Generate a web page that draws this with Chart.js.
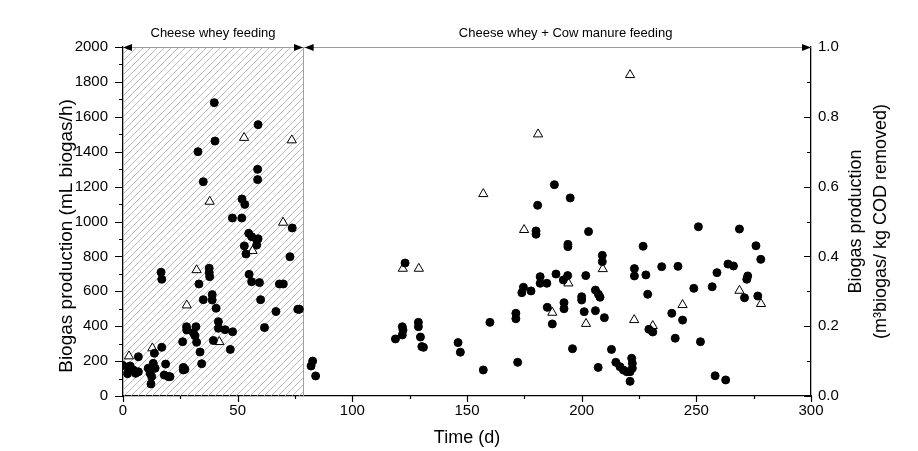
<!DOCTYPE html>
<html><head><meta charset="utf-8">
<script src="https://cdn.jsdelivr.net/npm/chart.js@4/dist/chart.umd.min.js"></script>
<style>html,body{margin:0;padding:0;background:#fff;}#wrap{width:918px;height:451px;}</style>
</head><body><div id="wrap"><canvas id="c" width="918" height="451"></canvas></div>
<script>
const FONT = '"Liberation Sans", Arial, sans-serif';

// Biogas production (mL biogas/h) – filled circles
const circleDays = [
 0,2,2.3,3.1,4.5,5.5,6.7,6.7,11,11.8,12.2,12.5,13.2,13.7,14,16.6,16.9,16.9,18,18.6,19.8,20.5,
 26,26.3,26.3,27,27.7,27.8,30.7,31.4,31.8,32.1,33.6,34.3,33.1,32.7,35,35,37.6,37.6,37.8,38.9,38.9,
 40.6,39.4,39.8,40.1,41.6,41.6,44.5,47.8,46.8,47.7,51.8,51.9,53.1,52.9,53.6,54.8,56.1,58.9,58.3,58.3,
 55,56.1,59.5,60,61.7,58.7,58.7,58.9,66.7,68.2,69.9,72.8,73.8,76.2,76.9,
 82.7,82,84,123,121.8,122.1,121.8,118.8,128.8,128.8,129.7,130.3,131,146.1,147.1,157.1,160,
 171.3,171.3,172.1,174.6,173.9,177.9,180.8,180.1,180.1,181.9,181.9,184.8,185,187.2,188.1,188.8,
 192.3,192.3,192,193.9,194,194,195,196,200,200,201.1,201.8,203,206,207.3,208,206,207.2,209,209,
 209.9,213,214.9,216.7,218.2,219.7,221.1,221.1,221.8,222.1,222.1,223,223,226.8,228,228.8,229.3,
 231,234.9,239.3,240.8,242,244,248.9,250.9,251.8,256.9,258.2,259,262.8,263.8,266.2,268.8,271,
 272.4,272,276,276.8,278.1
];
const circleBiogas = [
 175,128,139,172,149,130,139,225,159,130,69,111,187,245,159,709,669,279,120,183,111,111,
 311,164,149,153,397,378,362,345,397,308,252,185,642,1400,1228,552,732,707,684,581,550,
 503,318,1681,1461,426,388,380,368,267,1020,1020,1129,1098,860,814,932,913,901,894,865,
 697,655,650,552,392,1299,1240,1555,484,642,642,798,963,497,497,
 200,172,115,762,397,378,350,327,422,397,338,283,279,306,251,149,422,
 474,443,193,623,592,602,1093,946,927,684,646,646,508,413,1211,699,
 535,500,665,690,869,856,1135,271,569,550,483,690,942,607,583,566,489,164,806,770,
 449,267,193,168,149,139,139,84,216,187,159,730,688,858,694,583,382,
 367,741,474,331,743,435,617,970,311,626,116,707,92,756,745,957,563,
 688,669,861,573,783
];

// Biogas yield (m3 biogas / kg COD removed) – open triangles
const triangleDays = [2.6,12.8,27.8,32.1,37.8,42,52.8,56.5,69.8,73.6,122,129,157.1,174.9,181,187.2,194.2,201.9,209.2,221.1,222.9,231,244,268.8,278.2];
const triangleYield = [0.114,0.137,0.26,0.361,0.557,0.155,0.74,0.416,0.497,0.733,0.365,0.365,0.579,0.476,0.75,0.239,0.323,0.207,0.364,0.92,0.218,0.201,0.261,0.302,0.264];

const phaseEnd = 78.5;
const phase2Start = 79.2;
const phaseLabels = ['Cheese whey feeding', 'Cheese whey + Cow manure feeding'];
const phaseLabelCenters = [39.25, 193];
const xTitle = 'Time (d)';
const yTitle = 'Biogas production (mL biogas/h)';
const y2Title = ['Biogas production', '(m³biogas/ kg COD removed)'];

const decor = {
  id: 'decor',
  beforeDatasetsDraw(chart) {
    const {ctx, scales: {x, y}} = chart;
    const x0 = x.getPixelForValue(0), x1 = x.getPixelForValue(phaseEnd);
    const yt = y.getPixelForValue(2000), yb = y.getPixelForValue(0);
    ctx.save();
    ctx.beginPath(); ctx.rect(x0, yt, x1 - x0, yb - yt); ctx.clip();
    ctx.strokeStyle = '#a8a8a8'; ctx.lineWidth = 0.8;
    const h = yb - yt;
    ctx.beginPath();
    for (let s = x0 - h; s < x1 + 2; s += 7) { ctx.moveTo(s, yb); ctx.lineTo(s + h, yt); }
    ctx.stroke();
    ctx.restore();
    ctx.save();
    ctx.strokeStyle = '#a0a0a0'; ctx.lineWidth = 1;
    ctx.beginPath(); ctx.moveTo(x1 + 0.5, yt); ctx.lineTo(x1 + 0.5, yb); ctx.stroke();
    ctx.restore();
  },
  afterDraw(chart) {
    const {ctx, scales: {x, y, y2}} = chart;
    const x0 = x.getPixelForValue(0), xR = x.getPixelForValue(300);
    const yt = y.getPixelForValue(2000), yb = y.getPixelForValue(0);
    ctx.save();
    // tick marks
    ctx.strokeStyle = '#000'; ctx.lineWidth = 1.2;
    ctx.beginPath();
    for (let v = 0; v <= 2000; v += 100) {
      const p = Math.round(y.getPixelForValue(v)) + 0.5;
      const len = v % 200 === 0 ? 8 : 4;
      ctx.moveTo(x0 - len, p); ctx.lineTo(x0, p);
    }
    for (let i = 0; i <= 10; i++) {
      const p = Math.round(y2.getPixelForValue(i / 10)) + 0.5;
      const len = i % 2 === 0 ? 7 : 4;
      ctx.moveTo(xR, p); ctx.lineTo(xR - len, p);
    }
    for (let d = 0; d <= 300; d += 25) {
      const p = Math.round(x.getPixelForValue(d)) + 0.5;
      const len = d % 50 === 0 ? 6 : 3;
      ctx.moveTo(p, yb); ctx.lineTo(p, yb + len);
    }
    ctx.stroke();
    // top phase line with arrows
    ctx.strokeStyle = '#9a9a9a'; ctx.lineWidth = 1;
    ctx.beginPath(); ctx.moveTo(x0, yt + 0.5); ctx.lineTo(xR, yt + 0.5); ctx.stroke();
    ctx.fillStyle = '#000';
    const arrow = (tip, dir) => {
      ctx.beginPath();
      ctx.moveTo(tip, yt + 0.5);
      ctx.lineTo(tip - dir * 9, yt + 0.5 - 3.5);
      ctx.lineTo(tip - dir * 9, yt + 0.5 + 3.5);
      ctx.closePath(); ctx.fill();
    };
    arrow(x0, -1);
    arrow(x.getPixelForValue(phaseEnd), 1);
    arrow(x.getPixelForValue(phase2Start), -1);
    arrow(xR, 1);
    // phase labels
    ctx.fillStyle = '#000';
    ctx.font = '13px ' + FONT;
    ctx.textAlign = 'center'; ctx.textBaseline = 'middle';
    phaseLabels.forEach((t, i) => ctx.fillText(t, x.getPixelForValue(phaseLabelCenters[i]), 33));
    // axis titles
    ctx.font = '18px ' + FONT;
    ctx.fillText(xTitle, (x0 + xR) / 2, 438);
    ctx.save();
    ctx.translate(67, 236); ctx.rotate(-Math.PI / 2);
    ctx.font = '19px ' + FONT;
    ctx.fillText(yTitle, 0, 0);
    ctx.restore();
    ctx.save();
    ctx.translate(869, (yt + yb) / 2); ctx.rotate(-Math.PI / 2);
    ctx.font = '18px ' + FONT;
    ctx.fillText(y2Title[0], 0, -12.5);
    ctx.fillText(y2Title[1], 0, 12.5);
    ctx.restore();
    ctx.restore();
  }
};

new Chart(document.getElementById('c'), {
  type: 'scatter',
  data: {
    datasets: [
      {
        label: 'Biogas production',
        data: circleDays.map((d, i) => ({x: d, y: circleBiogas[i]})),
        yAxisID: 'y',
        pointStyle: 'circle', pointRadius: 4, borderWidth: 1,
        backgroundColor: '#000', borderColor: '#000'
      },
      {
        label: 'Biogas yield',
        data: triangleDays.map((d, i) => ({x: d, y: triangleYield[i]})),
        yAxisID: 'y2',
        pointStyle: 'triangle', pointRadius: 5.3, borderWidth: 1,
        backgroundColor: '#fff', borderColor: '#000'
      }
    ]
  },
  options: {
    responsive: false, animation: false, devicePixelRatio: 1,
    layout: {padding: {top: 47, left: 0, right: 0, bottom: 0}},
    plugins: {legend: {display: false}, tooltip: {enabled: false}},
    scales: {
      x: {
        type: 'linear', min: 0, max: 300,
        ticks: {stepSize: 50, color: '#000', font: {family: FONT, size: 15}, padding: 6, maxRotation: 0, autoSkip: false, callback: v => String(v)},
        grid: {display: true, drawOnChartArea: false, drawTicks: false},
        border: {color: '#000', width: 1.3},
        afterFit(s) { s.height = 55; }
      },
      y: {
        position: 'left', min: 0, max: 2000,
        ticks: {stepSize: 200, color: '#000', font: {family: FONT, size: 15}, padding: 15, callback: v => String(v)},
        grid: {display: true, drawOnChartArea: false, drawTicks: false},
        border: {color: '#000', width: 1.3},
        afterFit(s) { s.width = 123; }
      },
      y2: {
        position: 'right', min: 0, max: 1,
        ticks: {stepSize: 0.2, color: '#000', font: {family: FONT, size: 15}, padding: 7, callback: v => v.toFixed(1)},
        grid: {display: true, drawOnChartArea: false, drawTicks: false},
        border: {color: '#000', width: 1.3},
        afterFit(s) { s.width = 107; }
      }
    }
  },
  plugins: [decor]
});
</script></body></html>
